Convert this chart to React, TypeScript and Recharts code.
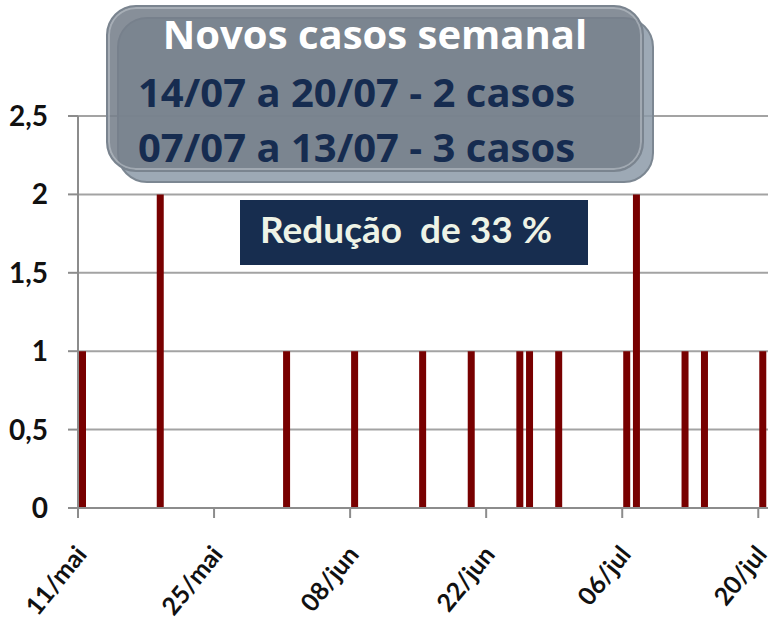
import { BarChart, Bar, XAxis, YAxis, CartesianGrid } from "recharts";

const MONTHS = ["jan", "fev", "mar", "abr", "mai", "jun", "jul", "ago", "set", "out", "nov", "dez"];

// dias com casos novos
const caseDays = [
  "11/mai", "19/mai", "01/jun", "08/jun", "15/jun", "20/jun", "25/jun",
  "26/jun", "29/jun", "06/jul", "07/jul", "12/jul", "14/jul", "20/jul",
];
const caseCounts = [1, 2, 1, 1, 1, 1, 1, 1, 1, 1, 2, 1, 1, 1];

const tickLabels = ["11/mai", "25/mai", "08/jun", "22/jun", "06/jul", "20/jul"];
const yTicks = [0, 0.5, 1, 1.5, 2, 2.5];

function dayLabel(d: Date) {
  return `${String(d.getDate()).padStart(2, "0")}/${MONTHS[d.getMonth()]}`;
}

// eixo diário de 11/mai a 20/jul
const days: string[] = [];
for (let d = new Date(2020, 4, 11); d <= new Date(2020, 6, 20); d.setDate(d.getDate() + 1)) {
  days.push(dayLabel(d));
}

const chartData = days.map((day) => {
  const i = caseDays.indexOf(day);
  return { day, casos: i >= 0 ? caseCounts[i] : 0 };
});

function DateTick(props: any) {
  const { x, y, payload } = props;
  const px = x - (payload.offset ?? 0);
  const ax = px + 10;
  const ay = y + 47;
  return (
    <g>
      <line x1={px} y1={y} x2={px} y2={y + 10} stroke="#8c8c8c" strokeWidth={2} />
      <g transform={`translate(${ax}, ${ay}) rotate(-51)`}>
        <text
          x={0}
          y={0}
          textAnchor="end"
          fontFamily="Lato, sans-serif"
          fontWeight={700}
          fontSize={25}
          fill="#111"
        >
          {payload.value}
        </text>
      </g>
    </g>
  );
}

export default function App() {
  return (
    <div
      style={{
        position: "absolute",
        left: 0,
        top: 0,
        width: 772,
        height: 633,
        background: "#fff",
        overflow: "hidden",
      }}
    >
      <BarChart
        width={772}
        height={633}
        data={chartData}
        margin={{ top: 116, right: 4, bottom: 0, left: 0 }}
        barSize={7}
      >
        <CartesianGrid vertical={false} stroke="#a3a3a3" strokeWidth={2} />
        <XAxis
          dataKey="day"
          ticks={tickLabels}
          interval={0}
          height={125}
          tickSize={0}
          tickMargin={0}
          tickLine={false}
          axisLine={{ stroke: "#8c8c8c", strokeWidth: 2 }}
          tick={<DateTick />}
        />
        <YAxis
          domain={[0, 2.5]}
          ticks={yTicks}
          width={78}
          tickSize={10}
          tickMargin={20}
          axisLine={{ stroke: "#8c8c8c", strokeWidth: 2 }}
          tickLine={{ stroke: "#8c8c8c", strokeWidth: 2 }}
          tickFormatter={(v: number) => String(v).replace(".", ",")}
          tick={{ fontSize: 28, fontWeight: 700, fill: "#111", fontFamily: "Lato, sans-serif" }}
        />
        <Bar dataKey="casos" fill="#780000" isAnimationActive={false} />
      </BarChart>

      {/* caixa cinza em camadas */}
      <div
        style={{
          position: "absolute",
          left: 117,
          top: 17,
          width: 537,
          height: 166,
          borderRadius: 30,
          background: "rgba(140,154,168,0.85)",
          border: "2px solid #7c8792",
          boxSizing: "border-box",
        }}
      />
      <div
        style={{
          position: "absolute",
          left: 106,
          top: 5,
          width: 538,
          height: 167,
          borderRadius: 30,
          background: "rgba(118,128,139,0.88)",
          border: "2px solid #7a848f",
          boxShadow: "inset 0 0 0 2px rgba(200,206,212,0.5)",
          boxSizing: "border-box",
          fontFamily: "'Open Sans', sans-serif",
          fontWeight: 700,
          fontSize: 40,
          whiteSpace: "nowrap",
        }}
      >
        <div style={{ position: "absolute", left: 0, width: "100%", top: 1, textAlign: "center", color: "#fff", lineHeight: "52px" }}>
          Novos casos semanal
        </div>
        <div style={{ position: "absolute", left: 30, top: 59, color: "#162c50", lineHeight: "52px" }}>
          14/07 a 20/07 - 2 casos
        </div>
        <div style={{ position: "absolute", left: 30, top: 114, color: "#162c50", lineHeight: "52px" }}>
          07/07 a 13/07 - 3 casos
        </div>
      </div>

      <div
        style={{
          position: "absolute",
          left: 240,
          top: 200,
          width: 348,
          height: 65,
          background: "#172d4f",
          color: "#eef3e6",
          fontFamily: "Lato, sans-serif",
          fontWeight: 700,
          fontSize: 37,
          lineHeight: "58px",
          paddingLeft: 20,
          boxSizing: "border-box",
          whiteSpace: "pre",
        }}
      >
        {"Redução  de 33 %"}
      </div>
    </div>
  );
}
